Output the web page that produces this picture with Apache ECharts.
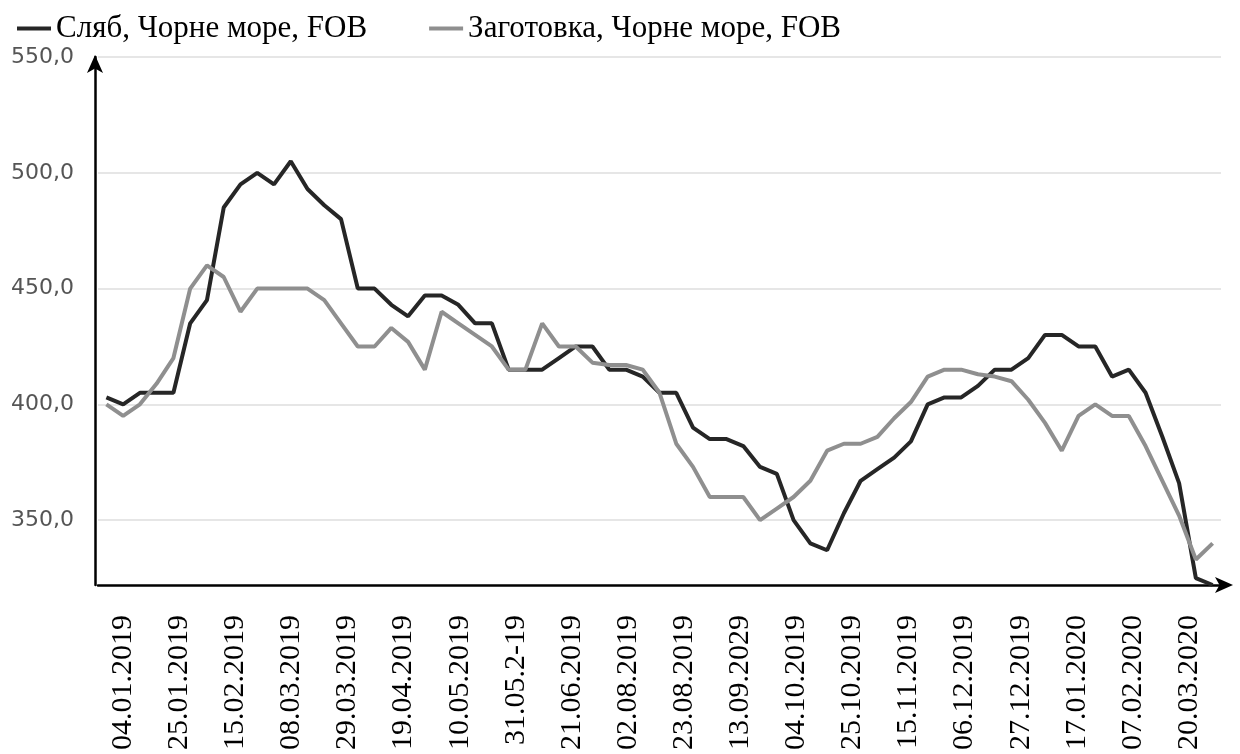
<!DOCTYPE html>
<html>
<head>
<meta charset="utf-8">
<title>Сляб і заготовка, Чорне море, FOB</title>
<script src="https://cdn.jsdelivr.net/npm/echarts@6.0.0/dist/echarts.min.js"></script>
<style>
    html, body { margin: 0; padding: 0; background: #fff; }
    #price-chart { width: 1240px; height: 754px; }
</style>
</head>
<body>
<div id="price-chart"></div>
<script>
// підписи осі X (як на оригіналі, разом з опечатками)
var dateLabels = ['04.01.2019', '25.01.2019', '15.02.2019', '08.03.2019', '29.03.2019',
    '19.04.2019', '10.05.2019', '31.05.2-19', '21.06.2019', '02.08.2019',
    '23.08.2019', '13.09.2029', '04.10.2019', '25.10.2019', '15.11.2019',
    '06.12.2019', '27.12.2019', '17.01.2020', '07.02.2020', '20.03.2020'];

// Сляб, Чорне море, FOB
var slab = [403, 400, 405, 405, 405, 435, 445, 485, 495, 500,
    495, 505, 493, 486, 480, 450, 450, 443, 438, 447,
    447, 443, 435, 435, 415, 415, 415, 420, 425, 425,
    415, 415, 412, 405, 405, 390, 385, 385, 382, 373,
    370, 350, 340, 337, 353, 367, 372, 377, 384, 400,
    403, 403, 408, 415, 415, 420, 430, 430, 425, 425,
    412, 415, 405, 386, 366, 325, 322];

// Заготовка, Чорне море, FOB
var billet = [400, 395, 400, 409, 420, 450, 460, 455, 440, 450,
    450, 450, 450, 445, 435, 425, 425, 433, 427, 415,
    440, 435, 430, 425, 415, 415, 435, 425, 425, 418,
    417, 417, 415, 405, 383, 373, 360, 360, 360, 350,
    355, 360, 367, 380, 383, 383, 386, 394, 401, 412,
    415, 415, 413, 412, 410, 402, 392, 380, 395, 400,
    395, 395, 382, 367, 352, 333, 340];

var yTicks = [350, 400, 450, 500, 550];

// тижні (категорії для ліній)
var weeks = slab.map(function (v, i) { return i + 1; });

var chart = echarts.init(document.getElementById('price-chart'));
var option = {
    backgroundColor: '#fff',
    animation: false,
    color: ['#262626', '#8f8f8f'],
    legend: {
        left: 12,
        top: 8,
        icon: 'rect',
        itemWidth: 34,
        itemHeight: 4,
        itemGap: 62,
        textStyle: {
            fontFamily: 'Liberation Serif',
            fontSize: 31,
            color: '#000'
        },
        data: ['Сляб, Чорне море, FOB', 'Заготовка, Чорне море, FOB']
    },
    grid: [
        { left: 98, right: 19, top: 57, bottom: 169 },
        // окрема сітка тільки для підписів дат
        { left: 95, right: 23, top: 57, bottom: 169 }
    ],
    xAxis: [
        {
            type: 'category',
            gridIndex: 0,
            data: weeks,
            boundaryGap: true,
            axisLine: {
                onZero: false,
                symbol: ['none', 'arrow'],
                symbolSize: [12, 18],
                symbolOffset: [0, 12],
                lineStyle: { color: '#000', width: 2.5 }
            },
            axisTick: { show: false },
            axisLabel: { show: false },
            splitLine: { show: false }
        },
        {
            type: 'category',
            gridIndex: 1,
            data: dateLabels,
            boundaryGap: true,
            axisLine: { show: false },
            axisTick: { show: false },
            splitLine: { show: false },
            axisLabel: {
                interval: 0,
                rotate: 90,
                margin: 30,
                fontFamily: 'Liberation Serif',
                fontSize: 30,
                color: '#000'
            }
        }
    ],
    yAxis: [
        {
            type: 'value',
            gridIndex: 0,
            min: 322,
            max: 550,
            offset: 3,
            axisLine: {
                show: true,
                symbol: ['none', 'arrow'],
                symbolSize: [12, 18],
                symbolOffset: [0, 2],
                lineStyle: { color: '#000', width: 2.5 }
            },
            axisTick: { show: false, customValues: yTicks },
            axisLabel: {
                customValues: yTicks,
                margin: 21,
                fontFamily: 'DejaVu Sans',
                fontSize: 22,
                color: '#555',
                formatter: function (v) {
                    return v.toFixed(1).replace('.', ',');
                }
            },
            splitLine: {
                show: true,
                lineStyle: { color: '#dedede', width: 1.5 }
            }
        },
        {
            type: 'value',
            gridIndex: 1,
            min: 0,
            max: 1,
            show: false
        }
    ],
    series: [
        {
            name: 'Сляб, Чорне море, FOB',
            type: 'line',
            xAxisIndex: 0,
            yAxisIndex: 0,
            symbol: 'none',
            lineStyle: { width: 4, color: '#262626' },
            data: slab
        },
        {
            name: 'Заготовка, Чорне море, FOB',
            type: 'line',
            xAxisIndex: 0,
            yAxisIndex: 0,
            symbol: 'none',
            lineStyle: { width: 4, color: '#8f8f8f' },
            data: billet
        }
    ]
};
chart.setOption(option);
</script>
</body>
</html>
